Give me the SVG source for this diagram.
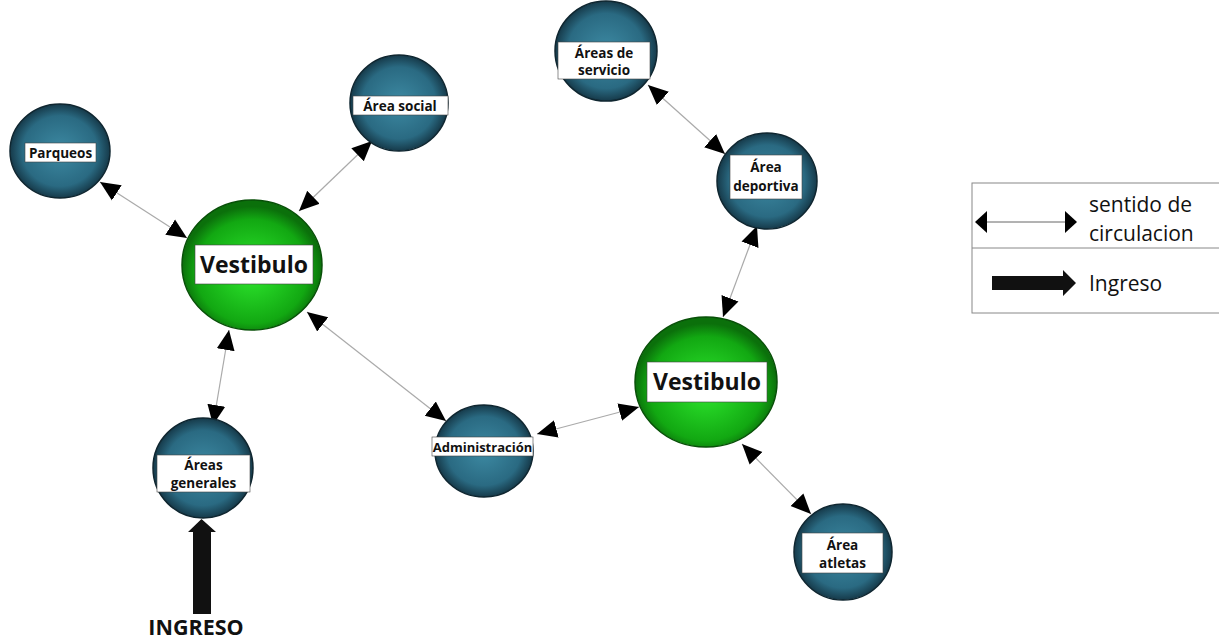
<svg xmlns="http://www.w3.org/2000/svg" width="1219" height="640" viewBox="0 0 1219 640">
<defs>
<radialGradient id="gTeal" cx="50%" cy="50%" r="50%">
<stop offset="0" stop-color="#3d8aa3"/>
<stop offset="0.75" stop-color="#2a6a82"/>
<stop offset="1" stop-color="#163a4a"/>
</radialGradient>
<radialGradient id="gGreen" cx="50%" cy="55%" r="50%">
<stop offset="0" stop-color="#2ee82e"/>
<stop offset="0.8" stop-color="#12a812"/>
<stop offset="1" stop-color="#0b700b"/>
</radialGradient>
<marker id="ah" markerUnits="userSpaceOnUse" markerWidth="22" markerHeight="20" refX="20" refY="9" orient="auto-start-reverse" viewBox="0 0 22 18">
<path d="M0,0 L20,9 L0,18 z" fill="#000"/>
</marker>
</defs>
<style>
.teal{fill:url(#gTeal);stroke:#0f2630;stroke-width:1.5}
.green{fill:url(#gGreen);stroke:#085008;stroke-width:1.5}
.lbl{fill:#fff;stroke:#444;stroke-width:0.6}
.t{font-family:"Open Sans","Liberation Sans",sans-serif;font-weight:bold;font-size:13.5px;fill:#111;text-anchor:middle}
.tb{font-family:"Open Sans","Liberation Sans",sans-serif;font-weight:bold;font-size:23px;fill:#111;text-anchor:middle}
.c{stroke:#aaa;stroke-width:1.2;fill:none;marker-start:url(#ah);marker-end:url(#ah)}
.lg{font-family:"Open Sans","Liberation Sans",sans-serif;font-size:21px;fill:#111}
</style>
<rect width="1219" height="640" fill="#fff"/>

<g id="connectors">
<line class="c" x1="100" y1="182" x2="187" y2="238"/>
<line class="c" x1="372" y1="141" x2="299" y2="211"/>
<line class="c" x1="229" y1="330" x2="213" y2="425"/>
<line class="c" x1="307" y1="312" x2="446" y2="421"/>
<line class="c" x1="537" y1="434" x2="639" y2="407"/>
<line class="c" x1="757" y1="226" x2="723" y2="317"/>
<line class="c" x1="648" y1="85" x2="725" y2="154"/>
<line class="c" x1="742" y1="444" x2="811" y2="514"/>
</g>

<g id="parqueos">
<ellipse class="teal" cx="60" cy="151" rx="50" ry="47"/>
<rect class="lbl" x="25" y="143" width="71" height="19"/>
<text class="t" x="60.5" y="157.5">Parqueos</text>
</g>

<g id="vestibulo1">
<ellipse class="green" cx="252" cy="265" rx="70" ry="65"/>
<rect class="lbl" x="195" y="245" width="118" height="39"/>
<text class="tb" x="254" y="273">Vestibulo</text>
</g>

<g id="area-social">
<ellipse class="teal" cx="399" cy="103" rx="49" ry="48"/>
<rect class="lbl" x="353" y="96" width="95" height="19"/>
<text class="t" x="400" y="110.5">Área social</text>
</g>

<g id="areas-servicio">
<ellipse class="teal" cx="606" cy="51" rx="51" ry="50"/>
<rect class="lbl" x="558" y="42" width="92" height="37"/>
<text class="t" x="604" y="57.5">Áreas de</text>
<text class="t" x="604" y="74.5">servicio</text>
</g>

<g id="area-deportiva">
<ellipse class="teal" cx="767" cy="181" rx="50" ry="48"/>
<rect class="lbl" x="730" y="155" width="72" height="44"/>
<text class="t" x="766" y="172">Área</text>
<text class="t" x="766" y="191">deportiva</text>
</g>

<g id="vestibulo2">
<ellipse class="green" cx="706" cy="382" rx="71" ry="65"/>
<rect class="lbl" x="647" y="362" width="120" height="40"/>
<text class="tb" x="707" y="390">Vestibulo</text>
</g>

<g id="areas-generales">
<ellipse class="teal" cx="203" cy="468" rx="50" ry="50"/>
<rect class="lbl" x="157" y="455" width="93" height="37"/>
<text class="t" x="203.5" y="469.5">Áreas</text>
<text class="t" x="203.5" y="487.5">generales</text>
</g>

<g id="administracion">
<ellipse class="teal" cx="484" cy="451" rx="49" ry="46"/>
<rect class="lbl" x="432" y="437" width="101" height="19"/>
<text class="t" x="482.5" y="451.5" style="font-size:13px">Administración</text>
</g>

<g id="area-atletas">
<ellipse class="teal" cx="843" cy="552" rx="49" ry="48"/>
<rect class="lbl" x="802" y="533" width="81" height="40"/>
<text class="t" x="842.5" y="549.5">Área</text>
<text class="t" x="842.5" y="567.5">atletas</text>
</g>

<g id="ingreso">
<path d="M193,614 L193,532 L188,532 L201.5,519 L216,532 L211,532 L211,614 z" fill="#111"/>
<text x="196" y="635" font-family="'Open Sans', 'Liberation Sans', sans-serif" font-weight="bold" font-size="21.5" fill="#111" text-anchor="middle">INGRESO</text>
</g>

<g id="legend">
<rect x="972" y="183" width="260" height="130" fill="#fff" stroke="#888" stroke-width="1"/>
<line x1="972" y1="248" x2="1219" y2="248" stroke="#888" stroke-width="1"/>
<line x1="980" y1="222" x2="1073" y2="222" stroke="#666" stroke-width="1"/>
<path d="M975,222 L987,211 L987,233 z" fill="#000"/>
<path d="M1077,222 L1065,211 L1065,233 z" fill="#000"/>
<text class="lg" x="1089" y="211.5">sentido de</text>
<text class="lg" x="1089" y="240.5">circulacion</text>
<path d="M992,276 L1063,276 L1063,270 L1076,283 L1063,296 L1063,290 L992,290 z" fill="#111"/>
<text class="lg" x="1089" y="291">Ingreso</text>
</g>
</svg>
